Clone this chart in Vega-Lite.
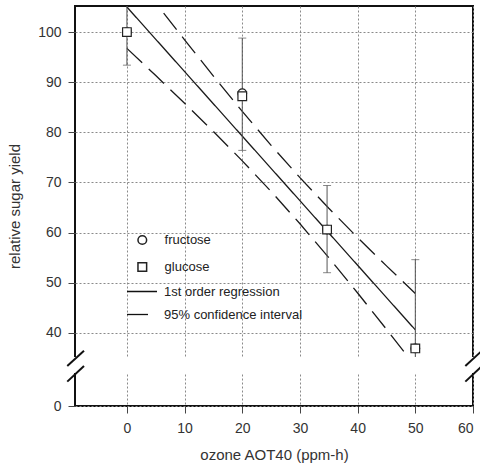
{
  "$schema": "https://vega.github.io/schema/vega-lite/v6.json",
  "width": 398,
  "height": 400,
  "autosize": {"type": "none"},
  "padding": {"left": 75, "top": 6, "right": 7, "bottom": 64},
  "background": "white",
  "config": {
    "view": {"stroke": "#111", "strokeWidth": 2},
    "font": "Liberation Sans",
    "axis": {
      "domain": false,
      "labelFont": "Liberation Sans",
      "labelFontSize": 14,
      "labelColor": "#333",
      "titleFont": "Liberation Sans",
      "titleFontSize": 15,
      "titleFontWeight": "normal",
      "titleColor": "#333",
      "tickColor": "#444",
      "tickSize": 7,
      "tickWidth": 1
    },
    "legend": {"labelFont": "Liberation Sans", "labelFontSize": 13, "labelColor": "#222", "padding": 0}
  },
  "datasets": {
    "lines": [
      {"x": 0, "y": 105.0, "line": "1st order regression", "band": "fit"},
      {"x": 50, "y": 40.6, "line": "1st order regression", "band": "fit"},
      {"x": 0, "y": 113.25, "line": "95% confidence interval", "band": "upper"},
      {"x": 5, "y": 105.81, "line": "95% confidence interval", "band": "upper"},
      {"x": 10, "y": 98.44, "line": "95% confidence interval", "band": "upper"},
      {"x": 15, "y": 91.21, "line": "95% confidence interval", "band": "upper"},
      {"x": 20, "y": 84.17, "line": "95% confidence interval", "band": "upper"},
      {"x": 25, "y": 77.40, "line": "95% confidence interval", "band": "upper"},
      {"x": 30, "y": 70.96, "line": "95% confidence interval", "band": "upper"},
      {"x": 35, "y": 64.85, "line": "95% confidence interval", "band": "upper"},
      {"x": 40, "y": 59.01, "line": "95% confidence interval", "band": "upper"},
      {"x": 45, "y": 53.36, "line": "95% confidence interval", "band": "upper"},
      {"x": 50, "y": 47.85, "line": "95% confidence interval", "band": "upper"},
      {"x": 0, "y": 96.75, "line": "95% confidence interval", "band": "lower"},
      {"x": 5, "y": 91.32, "line": "95% confidence interval", "band": "lower"},
      {"x": 10, "y": 85.80, "line": "95% confidence interval", "band": "lower"},
      {"x": 15, "y": 80.15, "line": "95% confidence interval", "band": "lower"},
      {"x": 20, "y": 74.31, "line": "95% confidence interval", "band": "lower"},
      {"x": 25, "y": 68.20, "line": "95% confidence interval", "band": "lower"},
      {"x": 30, "y": 61.76, "line": "95% confidence interval", "band": "lower"},
      {"x": 35, "y": 54.99, "line": "95% confidence interval", "band": "lower"},
      {"x": 40, "y": 47.95, "line": "95% confidence interval", "band": "lower"},
      {"x": 45, "y": 40.72, "line": "95% confidence interval", "band": "lower"},
      {"x": 50, "y": 33.36, "line": "95% confidence interval", "band": "lower"}
    ],
    "err": [
      {"x": 0, "lo": 93.4, "hi": 106.6},
      {"x": 20, "lo": 76.4, "hi": 98.8},
      {"x": 34.7, "lo": 52.0, "hi": 69.4},
      {"x": 50, "lo": 35.0, "hi": 54.6}
    ],
    "pts": [
      {"x": 0, "y": 100, "sugar": "fructose"},
      {"x": 20, "y": 87.8, "sugar": "fructose"},
      {"x": 34.7, "y": 60.6, "sugar": "fructose"},
      {"x": 50, "y": 36.9, "sugar": "fructose"},
      {"x": 0, "y": 100, "sugar": "glucose"},
      {"x": 20, "y": 87.2, "sugar": "glucose"},
      {"x": 34.7, "y": 60.6, "sugar": "glucose"},
      {"x": 50, "y": 36.9, "sugar": "glucose"}
    ],
    "gap": [
      {"x1": -10.5, "x2": 61.8, "y1": 32.0, "y2": 35.2}
    ],
    "brk": [
      {"x1": -10.34, "y1": 33.4, "x2": -7.44, "y2": 36.45},
      {"x1": -10.34, "y1": 30.27, "x2": -7.44, "y2": 33.4},
      {"x1": 58.67, "y1": 33.4, "x2": 61.56, "y2": 36.45},
      {"x1": 58.67, "y1": 30.27, "x2": 61.56, "y2": 33.4}
    ]
  },
  "layer": [
    {
      "data": {"name": "lines"},
      "mark": {"type": "line", "clip": true, "strokeWidth": 1.3, "color": "#1a1a1a"},
      "encoding": {
        "x": {
          "field": "x", "type": "quantitative",
          "scale": {"domain": [-9, 60], "nice": false, "zero": false},
          "axis": {"values": [0, 10, 20, 30, 40, 50, 60], "title": "ozone AOT40 (ppm-h)", "grid": true, "gridColor": "#8a8a8a", "gridDash": [2, 2], "gridWidth": 1, "gridOpacity": 1, "labelPadding": 8, "titlePadding": 12}
        },
        "y": {
          "field": "y", "type": "quantitative",
          "scale": {"domain": [0, 29.6, 105.2], "range": [400, 379, 0], "nice": false, "zero": false},
          "axis": {"values": [0, 40, 50, 60, 70, 80, 90, 100], "title": "relative sugar yield", "grid": true, "gridColor": "#8a8a8a", "gridDash": [2, 2], "gridWidth": 1, "gridOpacity": 1, "labelPadding": 7, "titlePadding": 15}
        },
        "strokeDash": {
          "field": "line", "type": "nominal",
          "scale": {"domain": ["1st order regression", "95% confidence interval"], "range": [[1, 0], [21, 9]]},
          "legend": {
            "orient": "none", "legendX": 51, "legendY": 269.5, "title": null,
            "symbolType": "stroke", "symbolSize": 900, "symbolStrokeColor": "#111", "symbolStrokeWidth": 1.3,
            "labelOffset": 6, "rowPadding": -2,
            "encode": {"symbols": {"update": {"strokeDash": {"signal": "datum.value === '95% confidence interval' ? [18, 5] : [1, 0]"}}}}
          }
        },
        "detail": {"field": "band", "type": "nominal"}
      }
    },
    {
      "data": {"name": "err"},
      "mark": {"type": "rule", "clip": true, "color": "#555", "strokeWidth": 1},
      "encoding": {
        "x": {"field": "x", "type": "quantitative"},
        "y": {"field": "lo", "type": "quantitative"},
        "y2": {"field": "hi"}
      }
    },
    {
      "data": {"name": "err"},
      "mark": {"type": "tick", "clip": true, "orient": "horizontal", "color": "#555", "size": 8, "thickness": 1},
      "encoding": {
        "x": {"field": "x", "type": "quantitative"},
        "y": {"field": "lo", "type": "quantitative"}
      }
    },
    {
      "data": {"name": "err"},
      "mark": {"type": "tick", "clip": true, "orient": "horizontal", "color": "#555", "size": 8, "thickness": 1},
      "encoding": {
        "x": {"field": "x", "type": "quantitative"},
        "y": {"field": "hi", "type": "quantitative"}
      }
    },
    {
      "data": {"name": "pts"},
      "transform": [{"filter": "datum.sugar === 'fructose'"}],
      "mark": {"type": "point", "shape": "circle", "filled": true, "color": "white", "opacity": 1, "size": 75},
      "encoding": {
        "x": {"field": "x", "type": "quantitative"},
        "y": {"field": "y", "type": "quantitative"}
      }
    },
    {
      "data": {"name": "pts"},
      "transform": [{"filter": "datum.sugar === 'fructose'"}],
      "mark": {"type": "point", "filled": false, "color": "#222", "strokeWidth": 1.2, "opacity": 1, "size": 75},
      "encoding": {
        "x": {"field": "x", "type": "quantitative"},
        "y": {"field": "y", "type": "quantitative"},
        "shape": {
          "field": "sugar", "type": "nominal",
          "scale": {"domain": ["fructose", "glucose"], "range": ["circle", "square"]},
          "legend": {
            "orient": "none", "legendX": 60.8, "legendY": 227.5, "title": null,
            "symbolSize": 75,
            "labelOffset": 15.8, "rowPadding": 12,
            "encode": {
              "labels": {"update": {"fontStyle": [{"test": "datum.value === 'fructose' || datum.label === 'fructose'", "value": "italic"}, {"value": "normal"}]}}
            }
          }
        }
      }
    },
    {
      "data": {"name": "pts"},
      "transform": [{"filter": "datum.sugar === 'glucose'"}],
      "mark": {"type": "point", "shape": "square", "filled": true, "color": "white", "opacity": 1, "size": 75},
      "encoding": {
        "x": {"field": "x", "type": "quantitative"},
        "y": {"field": "y", "type": "quantitative"}
      }
    },
    {
      "data": {"name": "pts"},
      "transform": [{"filter": "datum.sugar === 'glucose'"}],
      "mark": {"type": "point", "shape": "square", "filled": false, "color": "#222", "strokeWidth": 1.2, "opacity": 1, "size": 75},
      "encoding": {
        "x": {"field": "x", "type": "quantitative"},
        "y": {"field": "y", "type": "quantitative"}
      }
    },
    {
      "data": {"name": "gap"},
      "mark": {"type": "rect", "fill": "white", "clip": false},
      "encoding": {
        "x": {"field": "x1", "type": "quantitative"},
        "x2": {"field": "x2"},
        "y": {"field": "y1", "type": "quantitative"},
        "y2": {"field": "y2"}
      }
    },
    {
      "data": {"name": "brk"},
      "mark": {"type": "rule", "clip": false, "color": "#111", "strokeWidth": 2},
      "encoding": {
        "x": {"field": "x1", "type": "quantitative"},
        "y": {"field": "y1", "type": "quantitative"},
        "x2": {"field": "x2"},
        "y2": {"field": "y2"}
      }
    }
  ]
}
